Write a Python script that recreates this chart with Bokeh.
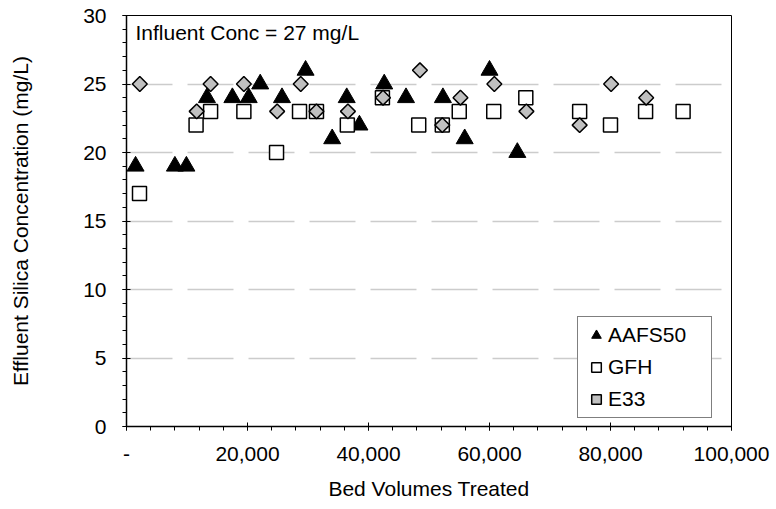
from bokeh.plotting import figure
from bokeh.models import (FixedTicker, Legend, LegendItem, Label, Range1d)
from bokeh.embed import file_html
from bokeh.resources import INLINE
import math

# ---- data ----
aafs50_x = [1500, 8000, 9900, 13300, 17500, 20200, 22100, 25700, 29600, 34000,
            36400, 38500, 42600, 46200, 52300, 55900, 60000, 64600]
aafs50_y = [19, 19, 19, 24, 24, 24, 25, 24, 26, 21,
            24, 22, 25, 24, 24, 21, 26, 20]

gfh_x = [2150, 11500, 13900, 19400, 24800, 28600, 31400, 36500, 42300, 48300,
         52200, 55000, 60700, 66000, 74900, 80000, 85800, 92000]
gfh_y = [17, 22, 23, 23, 20, 23, 23, 22, 24, 22,
         22, 23, 23, 24, 23, 22, 23, 23]

e33_x = [2200, 11600, 13900, 19400, 24900, 28800, 31400, 36600, 42400, 48500,
         52200, 55200, 60800, 66100, 74900, 80100, 85900]
e33_y = [25, 23, 25, 25, 23, 25, 23, 23, 24, 26,
         22, 24, 25, 23, 22, 25, 24]

x_ticks = [0, 20000, 40000, 60000, 80000, 100000]
x_tick_labels = ["-", "20,000", "40,000", "60,000", "80,000", "100,000"]
y_ticks = [0, 5, 10, 15, 20, 25, 30]
y_tick_labels = ["0", "5", "10", "15", "20", "25", "30"]

FONT = "Liberation Sans"
FS = "21px"

p = figure(width=776, height=509, output_backend="svg", toolbar_location=None,
           x_range=Range1d(0, 100000), y_range=Range1d(0, 30),
           min_border_left=126, min_border_right=45, min_border_top=15,
           min_border_bottom=83)
p.background_fill_color = "white"
p.border_fill_color = "white"
p.outline_line_color = "black"
p.outline_line_width = 1

# axes
p.xaxis.ticker = FixedTicker(ticks=x_ticks,
                             minor_ticks=list(range(0, 100001, 4000)))
p.xaxis.major_label_overrides = {t: l for t, l in zip(x_ticks, x_tick_labels)}
p.yaxis.ticker = FixedTicker(ticks=y_ticks, minor_ticks=list(range(0, 31)))
p.yaxis.major_label_overrides = {t: l for t, l in zip(y_ticks, y_tick_labels)}

for ax in (p.xaxis[0], p.yaxis[0]):
    ax.axis_line_color = "black"
    ax.axis_line_width = 1.5
    ax.major_tick_line_color = "black"
    ax.minor_tick_line_color = "black"
    ax.major_tick_line_width = 1
    ax.minor_tick_line_width = 1
    ax.major_tick_in = 4
    ax.major_tick_out = 4
    ax.minor_tick_in = 0
    ax.minor_tick_out = 4
    ax.major_label_text_font = FONT
    ax.major_label_text_font_size = FS
    ax.major_label_text_color = "black"
    ax.axis_label_text_font = FONT
    ax.axis_label_text_font_size = FS
    ax.axis_label_text_font_style = "normal"
    ax.axis_label_text_color = "black"

p.xaxis.axis_label = "Bed Volumes Treated"
p.yaxis.axis_label = "Effluent Silica Concentration (mg/L)"
p.xaxis.major_label_standoff = 16
p.yaxis.major_label_standoff = 16
p.xaxis.axis_label_standoff = 13
p.yaxis.axis_label_standoff = 48

# grid
p.xgrid.visible = False
p.ygrid.grid_line_color = "#cccccc"
p.ygrid.grid_line_width = 1.3
p.ygrid.grid_line_dash = "46 15"

# series
r1 = p.scatter(aafs50_x, aafs50_y, marker="triangle", size=17,
               fill_color="black", line_color="black", line_width=1)
r2 = p.scatter(gfh_x, gfh_y, marker="square", size=14,
               fill_color="white", line_color="black", line_width=1.5)
r3 = p.scatter(e33_x, e33_y, marker="square", size=10.5, angle=math.pi / 4,
               fill_color="#c0c0c0", line_color="black", line_width=1.5)

legend = Legend(items=[LegendItem(label="AAFS50", renderers=[r1]),
                       LegendItem(label="GFH", renderers=[r2]),
                       LegendItem(label="E33", renderers=[r3])],
                location=(451, 8))
legend.label_text_font = FONT
legend.label_text_font_size = FS
legend.label_text_color = "black"
legend.glyph_width = 24
legend.glyph_height = 24
legend.label_height = 24
legend.label_width = 97
legend.label_standoff = 0
legend.padding = 6
legend.spacing = 8
legend.border_line_color = "black"
legend.border_line_width = 1
legend.background_fill_color = "white"
legend.background_fill_alpha = 1
legend.margin = 0
p.add_layout(legend, "center")

note = Label(x=9, y=28.75, x_units="screen", y_units="data",
             text="Influent Conc = 27 mg/L", text_font=FONT,
             text_font_size=FS, text_color="black",
             text_baseline="middle")
p.add_layout(note)

open("out.html", "w").write(file_html(p, INLINE))
